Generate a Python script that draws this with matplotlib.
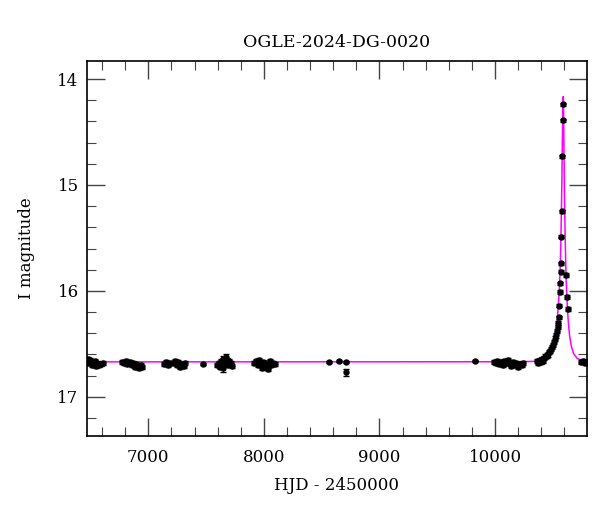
import matplotlib
matplotlib.use("Agg")
import matplotlib.pyplot as plt
from matplotlib.ticker import MultipleLocator

# ---------------- data ----------------
title = "OGLE-2024-DG-0020"
xlabel = "HJD - 2450000"
ylabel = "I magnitude"

# observations: time (HJD-2450000), I magnitude, error
obs_t = [
    6475, 6482, 6490, 6500, 6510, 6520, 6530, 6540, 6550, 6560, 6575, 6590, 6605,
    6775, 6790, 6805, 6820, 6840, 6855, 6870, 6885, 6895, 6905, 6920, 6935, 6950,
    7140, 7155, 7170, 7190, 7215, 7230, 7245, 7260, 7275, 7290, 7305, 7320,
    7473,
    7595, 7610, 7620, 7630, 7640, 7650, 7660, 7670, 7680, 7690, 7700, 7715, 7725, 7645,
    7915, 7930, 7945, 7960, 7975, 7985, 7990, 8005, 8020, 8035, 8040, 8050, 8065, 8080, 8095,
    8567, 8651, 8709, 8709, 9830,
    9990, 10005, 10020, 10035, 10050, 10065, 10080, 10095, 10110, 10125, 10140, 10155,
    10170, 10185, 10200, 10215, 10230, 10245,
    10365, 10375, 10385, 10395, 10405, 10415, 10425, 10435, 10445, 10455, 10465, 10475,
    10485, 10495, 10505, 10512, 10520, 10527, 10533, 10540, 10545,
    10551, 10556, 10561.8, 10564.8, 10567.7, 10570.6, 10573.5, 10576.1, 10581.9, 10584.8, 10590.6,
    10613.7, 10625, 10631,
    10745, 10760, 10775, 10790,
]
obs_m = [
    16.64, 16.68, 16.67, 16.65, 16.70, 16.67, 16.69, 16.66, 16.71, 16.68, 16.70, 16.69, 16.68,
    16.67, 16.68, 16.66, 16.69, 16.67, 16.70, 16.68, 16.72, 16.69, 16.71, 16.73, 16.70, 16.72,
    16.69, 16.67, 16.70, 16.68, 16.68, 16.66, 16.70, 16.67, 16.72, 16.69, 16.71, 16.68,
    16.69,
    16.70, 16.68, 16.72, 16.66, 16.69, 16.64, 16.67, 16.62, 16.65, 16.70, 16.66, 16.68, 16.71, 16.73,
    16.68, 16.66, 16.70, 16.65, 16.69, 16.73, 16.67, 16.72, 16.68, 16.71, 16.74, 16.66, 16.70, 16.68, 16.69,
    16.67, 16.66, 16.67, 16.77, 16.66,
    16.67, 16.68, 16.66, 16.69, 16.67, 16.70, 16.66, 16.68, 16.65, 16.69, 16.71, 16.67,
    16.70, 16.68, 16.72, 16.69, 16.70, 16.68,
    16.66, 16.68, 16.65, 16.67, 16.64, 16.66, 16.63, 16.62, 16.61, 16.60, 16.58, 16.57,
    16.55, 16.53, 16.51, 16.48, 16.45, 16.42, 16.38, 16.34, 16.30,
    16.25, 16.14, 16.01, 15.93, 15.82, 15.74, 15.49, 15.25, 14.73, 14.39, 14.24,
    15.85, 16.06, 16.17,
    16.67, 16.66, 16.68, 16.67,
]
obs_e = [
    0.02, 0.02, 0.02, 0.02, 0.02, 0.02, 0.02, 0.02, 0.02, 0.02, 0.02, 0.02, 0.02,
    0.02, 0.02, 0.02, 0.02, 0.02, 0.02, 0.02, 0.02, 0.02, 0.02, 0.02, 0.02, 0.02,
    0.02, 0.02, 0.02, 0.02, 0.02, 0.02, 0.02, 0.02, 0.02, 0.02, 0.02, 0.02,
    0.01,
    0.02, 0.02, 0.02, 0.02, 0.02, 0.03, 0.02, 0.02, 0.02, 0.02, 0.02, 0.02, 0.02, 0.04,
    0.02, 0.02, 0.02, 0.02, 0.02, 0.02, 0.02, 0.02, 0.02, 0.02, 0.02, 0.02, 0.02, 0.02, 0.02,
    0.01, 0.01, 0.01, 0.03, 0.01,
    0.02, 0.02, 0.02, 0.02, 0.02, 0.02, 0.02, 0.02, 0.02, 0.02, 0.02, 0.02,
    0.02, 0.02, 0.02, 0.02, 0.02, 0.02,
    0.02, 0.02, 0.02, 0.02, 0.02, 0.02, 0.02, 0.02, 0.02, 0.02, 0.02, 0.02,
    0.02, 0.02, 0.02, 0.02, 0.02, 0.02, 0.02, 0.02, 0.02,
    0.015, 0.015, 0.015, 0.015, 0.015, 0.015, 0.015, 0.015, 0.015, 0.015, 0.015,
    0.02, 0.02, 0.02,
    0.02, 0.02, 0.02, 0.02,
]

# model light curve (magenta)
model_t = [6470, 10200, 10350, 10390, 10430, 10470, 10500, 10520, 10535, 10545, 10554,
           10560, 10566, 10570, 10574, 10578, 10581, 10584, 10586, 10588, 10590,
           10592, 10594, 10596, 10599, 10602, 10606, 10610, 10614, 10620, 10626,
           10635, 10645, 10660, 10680, 10710, 10750, 10795]
model_m = [16.670, 16.669, 16.665, 16.657, 16.637, 16.594, 16.525, 16.426, 16.316, 16.167, 16.027,
           15.875, 15.679, 15.477, 15.217, 14.970, 14.670, 14.450, 14.252, 14.166, 14.166,
           14.252, 14.450, 14.670, 14.970, 15.217, 15.477, 15.679, 15.875, 16.027, 16.167,
           16.316, 16.426, 16.525, 16.594, 16.637, 16.657, 16.665]

xlim = (6470, 10795)
ylim = (17.37, 13.83)

# ---------------- plot ----------------
plt.rcParams['font.family'] = ['DejaVu Serif']
fig = plt.figure(figsize=(6.0, 5.12), dpi=100)
ax = fig.add_axes([0.145, 0.1484, 0.8333, 0.7324])

ax.plot(model_t, model_m, color='#ff00ff', lw=1.1, zorder=2)
ax.errorbar(obs_t, obs_m, yerr=obs_e, fmt='o', color='black', ms=3.6,
            elinewidth=1.0, capsize=2, capthick=1.0, zorder=3)

ax.set_xlim(*xlim)
ax.set_ylim(*ylim)

ax.xaxis.set_major_locator(MultipleLocator(1000))
ax.xaxis.set_minor_locator(MultipleLocator(200))
ax.yaxis.set_major_locator(MultipleLocator(1))
ax.yaxis.set_minor_locator(MultipleLocator(0.2))

ax.tick_params(which='both', direction='in', top=True, right=True,
               color='#444444', labelsize=12)
ax.tick_params(which='major', length=13, width=1.0)
ax.tick_params(which='minor', length=6.5, width=0.8)
ax.tick_params(axis='x', pad=9)
ax.tick_params(axis='y', pad=6)
for s in ax.spines.values():
    s.set_linewidth(1.2)

ax.set_title(title, fontsize=12.5, pad=10)
ax.set_xlabel(xlabel, fontsize=12, labelpad=8)
ax.set_ylabel(ylabel, fontsize=12, labelpad=16)

fig.savefig("out.png", dpi=100)
